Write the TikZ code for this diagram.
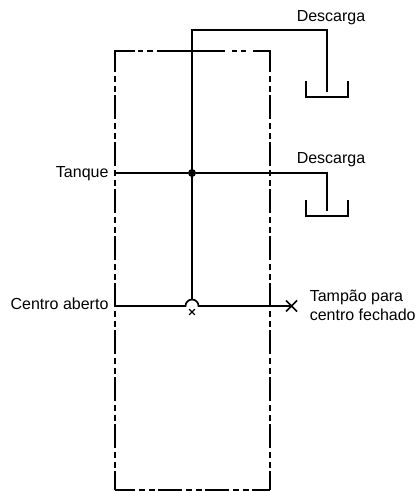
\documentclass[tikz,border=0pt]{standalone}
\usepackage{fontspec}
\setmainfont{Liberation Sans}
\usetikzlibrary{positioning, calc, shapes.misc}
\tikzset{
  pipe/.style={line width=1.25pt, black},
  casing/.style={line width=1.25pt, black, dash pattern=on 18pt off 3pt on 4.5pt off 3pt on 4.5pt off 2.25pt},
  tag/.style={font=\fontsize{12}{14.25}\selectfont, inner sep=0pt},
}
\begin{document}
\begin{tikzpicture}[x=0.75pt, y=-0.75pt]
  \useasboundingbox (0,0) rectangle (417,491);
  % casing
  \draw[casing, dash phase=1.5pt] (115,50) -- (115,490);
  \draw[casing, dash phase=1.5pt] (270,50) -- (270,490);
  \draw[casing, dash phase=3pt] (115,490) -- (270,490);
  \draw[pipe, dash pattern=on 15pt off 2.25pt on 3.75pt off 3pt on 4.5pt off 3pt on 51pt off 5.25pt on 3.75pt off 3pt on 3.75pt off 5.25pt on 13pt] (115,51) -- (270,51);
  \coordinate (tankL) at (115,173);
  \coordinate (openL) at (115,306);
  % pipes
  \coordinate (riserTop) at (192,30);
  \coordinate (riserBot) at (192,300);
  \coordinate (drainA) at (327,92);
  \coordinate (drainB) at (327,211);
  \coordinate (plug) at (291.5,306);
  \node[circle, fill=black, inner sep=0pt, minimum size=6pt] (junction) at (192,173) {};
  \draw[pipe] (riserBot) -- (junction.center) -- (riserTop) -| (drainA);
  \draw[pipe] (tankL) -- (junction) -| (drainB);
  \draw[pipe] (openL) -- (185.5,306) arc[start angle=180, end angle=360, radius=6.5] -- (plug);
  % plug and small cross
  \node[cross out, draw, line width=1.25pt, inner sep=0pt, minimum size=7pt] (plugX) at (plug) {};
  \node[cross out, draw, line width=1pt, inner sep=0pt, minimum size=3.2pt] (stopX) at (192,312) {};
  % tanks
  \draw[pipe] (306,81) |- (348,97) -- (348,81);
  \draw[pipe] (306,200) |- (348,216) -- (348,200);
  % labels
  \node[tag, anchor=base east] (tanque) at (108.7,177.5) {Tanque};
  \node[tag, anchor=base east] (aberto) at (108.7,309) {Centro aberto};
  \node[tag, anchor=base] (descA) at (331,21.7) {Descarga};
  \node[tag, anchor=base] (descB) at (331,163.3) {Descarga};
  \node[tag, anchor=base west, align=left] (tampao) at (309.5,320.7) {Tampão para\\centro fechado};
\end{tikzpicture}
\end{document}
